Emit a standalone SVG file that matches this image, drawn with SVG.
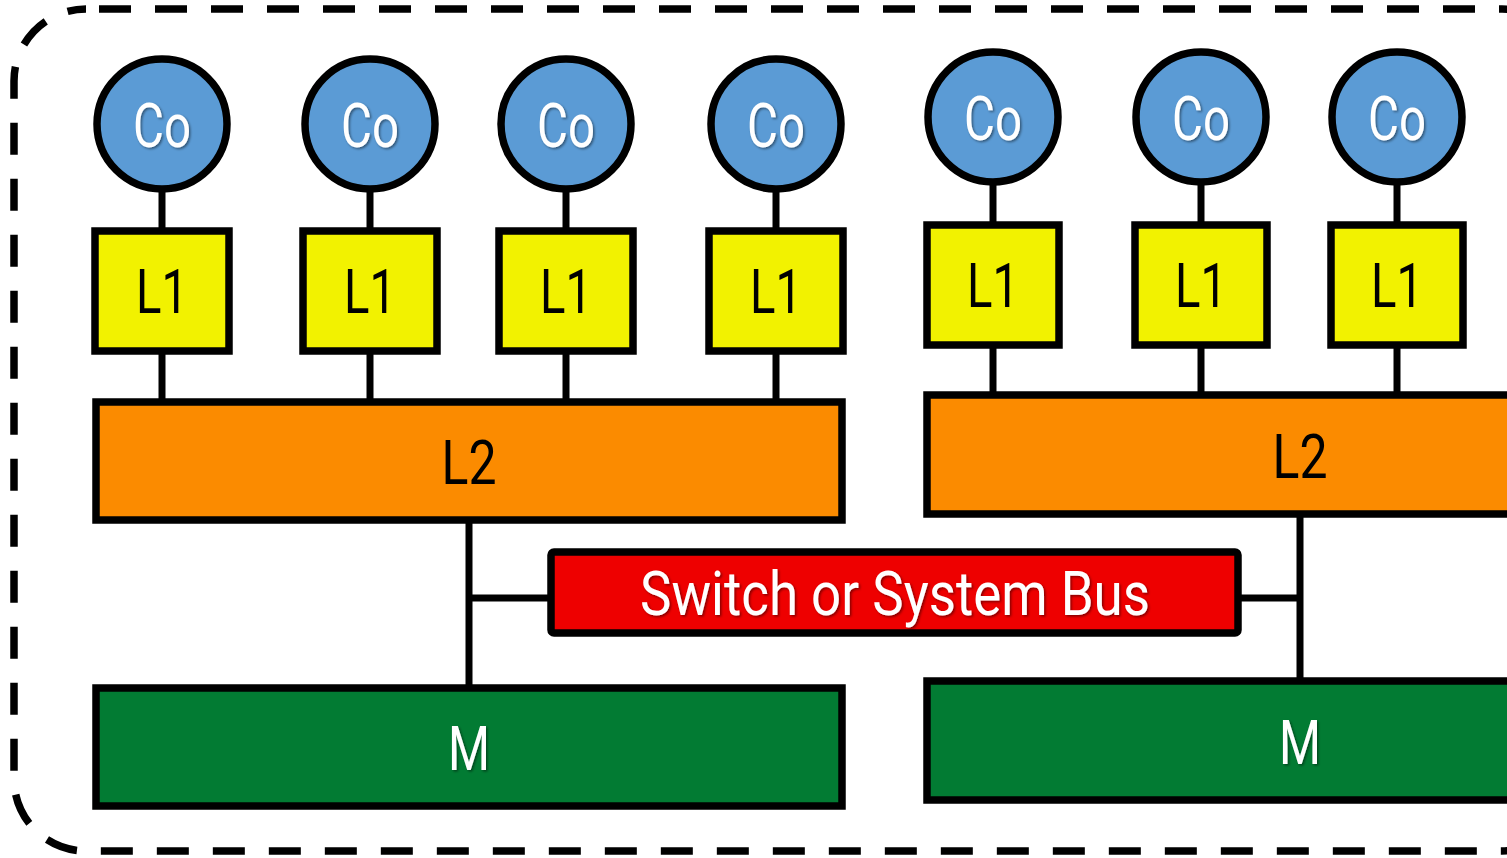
<svg xmlns="http://www.w3.org/2000/svg" width="1507" height="858" viewBox="0 0 1507 858">
<defs>
<filter id="sh" x="-10%" y="-10%" width="130%" height="130%">
<feDropShadow dx="1.5" dy="1.5" stdDeviation="1" flood-color="#000" flood-opacity="0.45"/>
</filter>
</defs>
<style>
.core{fill:#5B9BD5;stroke:#000;stroke-width:7.5}
.l1{fill:#F2F200;stroke:#000;stroke-width:7.5}
.l2{fill:#FB8B00;stroke:#000;stroke-width:7.5}
.bus{fill:#EE0000;stroke:#000;stroke-width:7.5}
.mem{fill:#027B33;stroke:#000;stroke-width:7.5}
.t{font-family:Roboto,"Liberation Sans",sans-serif;font-size:62px;text-anchor:middle}
.w{fill:#fff;filter:url(#sh)}
.k{fill:#000}
.conn line{stroke:#000;stroke-width:7}
</style>
<rect x="14" y="9" width="1560" height="842" rx="72" ry="72" fill="none" stroke="#000" stroke-width="7.5" stroke-dasharray="32 24" stroke-dashoffset="-13"/>
<g class="conn">
<line x1="162" y1="190" x2="162" y2="231"/>
<line x1="370" y1="190" x2="370" y2="231"/>
<line x1="566" y1="190" x2="566" y2="231"/>
<line x1="776" y1="190" x2="776" y2="231"/>
<line x1="993" y1="183" x2="993" y2="225"/>
<line x1="1201" y1="183" x2="1201" y2="225"/>
<line x1="1397" y1="183" x2="1397" y2="225"/>
<line x1="162" y1="351" x2="162" y2="402"/>
<line x1="370" y1="351" x2="370" y2="402"/>
<line x1="566" y1="351" x2="566" y2="402"/>
<line x1="776" y1="351" x2="776" y2="402"/>
<line x1="993" y1="345" x2="993" y2="395"/>
<line x1="1201" y1="345" x2="1201" y2="395"/>
<line x1="1397" y1="345" x2="1397" y2="395"/>
<line x1="469" y1="520" x2="469" y2="688"/>
<line x1="469" y1="598" x2="551" y2="598"/>
<line x1="1300" y1="514" x2="1300" y2="681"/>
<line x1="1238" y1="598" x2="1300" y2="598"/>
</g>
<g id="core1"><circle class="core" cx="162" cy="124" r="65"/><text class="t w" x="162" y="147" textLength="58" lengthAdjust="spacingAndGlyphs">Co</text></g>
<g id="core2"><circle class="core" cx="370" cy="124" r="65"/><text class="t w" x="370" y="147" textLength="58" lengthAdjust="spacingAndGlyphs">Co</text></g>
<g id="core3"><circle class="core" cx="566" cy="124" r="65"/><text class="t w" x="566" y="147" textLength="58" lengthAdjust="spacingAndGlyphs">Co</text></g>
<g id="core4"><circle class="core" cx="776" cy="124" r="65"/><text class="t w" x="776" y="147" textLength="58" lengthAdjust="spacingAndGlyphs">Co</text></g>
<g id="core5"><circle class="core" cx="993" cy="117" r="65"/><text class="t w" x="993" y="140" textLength="58" lengthAdjust="spacingAndGlyphs">Co</text></g>
<g id="core6"><circle class="core" cx="1201" cy="117" r="65"/><text class="t w" x="1201" y="140" textLength="58" lengthAdjust="spacingAndGlyphs">Co</text></g>
<g id="core7"><circle class="core" cx="1397" cy="117" r="65"/><text class="t w" x="1397" y="140" textLength="58" lengthAdjust="spacingAndGlyphs">Co</text></g>
<g id="l1a"><rect class="l1" x="95" y="231" width="134" height="120"/><text class="t k" x="162" y="313" textLength="52" lengthAdjust="spacingAndGlyphs">L1</text></g>
<g id="l1b"><rect class="l1" x="303" y="231" width="134" height="120"/><text class="t k" x="370" y="313" textLength="52" lengthAdjust="spacingAndGlyphs">L1</text></g>
<g id="l1c"><rect class="l1" x="499" y="231" width="134" height="120"/><text class="t k" x="566" y="313" textLength="52" lengthAdjust="spacingAndGlyphs">L1</text></g>
<g id="l1d"><rect class="l1" x="709" y="231" width="134" height="120"/><text class="t k" x="776" y="313" textLength="52" lengthAdjust="spacingAndGlyphs">L1</text></g>
<g id="l1e"><rect class="l1" x="927" y="225" width="132" height="120"/><text class="t k" x="993" y="307" textLength="52" lengthAdjust="spacingAndGlyphs">L1</text></g>
<g id="l1f"><rect class="l1" x="1135" y="225" width="132" height="120"/><text class="t k" x="1201" y="307" textLength="52" lengthAdjust="spacingAndGlyphs">L1</text></g>
<g id="l1g"><rect class="l1" x="1331" y="225" width="132" height="120"/><text class="t k" x="1397" y="307" textLength="52" lengthAdjust="spacingAndGlyphs">L1</text></g>
<g id="l2a"><rect class="l2" x="96" y="402" width="746" height="118"/><text class="t k" x="469" y="484" textLength="55" lengthAdjust="spacingAndGlyphs">L2</text></g>
<g id="l2b"><rect class="l2" x="927" y="395" width="620" height="119"/><text class="t k" x="1300" y="478" textLength="55" lengthAdjust="spacingAndGlyphs">L2</text></g>
<g id="bus"><rect class="bus" x="551" y="552" width="687" height="81" rx="3"/><text class="t w" x="895" y="615" textLength="510" lengthAdjust="spacingAndGlyphs">Switch or System Bus</text></g>
<g id="m1"><rect class="mem" x="96" y="688" width="746" height="118"/><text class="t w" x="469" y="770" textLength="42" lengthAdjust="spacingAndGlyphs">M</text></g>
<g id="m2"><rect class="mem" x="927" y="681" width="620" height="119"/><text class="t w" x="1300" y="764" textLength="42" lengthAdjust="spacingAndGlyphs">M</text></g>
</svg>
